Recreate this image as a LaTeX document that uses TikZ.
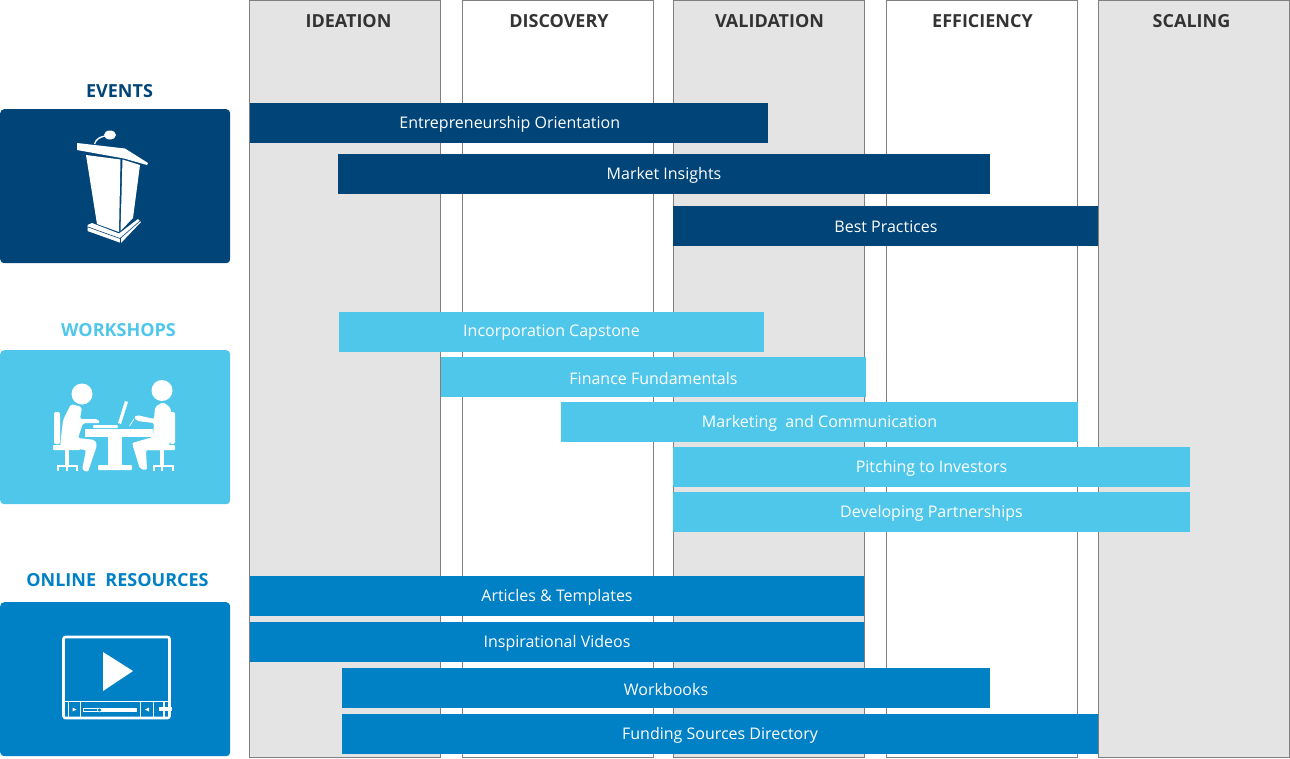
\documentclass[tikz,border=0pt]{standalone}
\usepackage{fontspec}
\usepackage{xcolor}
\setmainfont{Open Sans}
\definecolor{evblue}{HTML}{004478}
\definecolor{wsblue}{HTML}{4FC7EA}
\definecolor{orblue}{HTML}{0080C5}
\definecolor{colgray}{HTML}{E4E4E4}
\tikzset{
  stage/.style={draw=black!50, line width=0.8pt, outer sep=0pt, minimum width=191pt, minimum height=757pt, anchor=north west, inner sep=0pt},
  stagehead/.style={font=\fontsize{18}{20}\selectfont\bfseries, text=black!80, inner sep=0pt},
  bar/.style={minimum height=40pt, inner sep=0pt, text height=12pt, text depth=2pt, text=white, font=\fontsize{16}{18}\selectfont},
  card/.style={rounded corners=4pt, minimum width=230pt, minimum height=154pt, anchor=north west, inner sep=0pt},
  cardhead/.style={font=\fontsize{18}{20}\selectfont\bfseries, inner sep=0pt}
}
\begin{document}
\begin{tikzpicture}[x=1pt,y=-1pt]
\useasboundingbox (0,0) rectangle (1290,758);
% stages
\node[stage, fill=colgray] (s1) at (249.5,0) {};
\node[stage, fill=white] (s2) at (462.5,0) {};
\node[stage, fill=colgray] (s3) at (673.5,0) {};
\node[stage, fill=white] (s4) at (886.5,0) {};
\node[stage, fill=colgray] (s5) at (1098.5,0) {};
\node[stagehead] (h1) at (348.5,21.5) {IDEATION};
\node[stagehead] (h2) at (559,21.5) {DISCOVERY};
\node[stagehead] (h3) at (769.5,21.5) {VALIDATION};
\node[stagehead] (h4) at (982.5,21.5) {EFFICIENCY};
\node[stagehead] (h5) at (1191.5,21.5) {SCALING};
% events
\node[cardhead, text=evblue] (evh) at (119.5,91) {EVENTS};
\node[card, fill=evblue] (evc) at (0,109) {};
\node[bar, fill=evblue, minimum width=518pt] (ev1) at (509,123) {\hspace{1.5pt}Entrepreneurship Orientation};
\node[bar, fill=evblue, minimum width=652pt] (ev2) at (664,174) {Market Insights};
\node[bar, fill=evblue, minimum width=425pt, text height=14pt] (ev3) at (885.5,226) {\hspace{1pt}Best Practices};
% workshops
\node[cardhead, text=wsblue] (wsh) at (118.5,330) {WORKSHOPS};
\node[card, fill=wsblue] (wsc) at (0,350) {};
\node[bar, fill=wsblue, minimum width=425pt, text height=10pt] (ws1) at (551.5,332) {Incorporation Capstone};
\node[bar, fill=wsblue, minimum width=425pt, text height=16pt] (ws2) at (653.5,377) {Finance Fundamentals};
\node[bar, fill=wsblue, minimum width=517pt] (ws3) at (819.5,422) {Marketing\ \ and Communication};
\node[bar, fill=wsblue, minimum width=517pt] (ws4) at (931.5,467) {Pitching to Investors\hspace{2pt}};
\node[bar, fill=wsblue, minimum width=517pt] (ws5) at (931.5,512) {Developing Partnerships\hspace{2pt}};
% online resources
\node[cardhead, text=orblue] (orh) at (117.5,580) {ONLINE\ \ RESOURCES};
\node[card, fill=orblue] (orc) at (0,602) {};
\node[bar, fill=orblue, minimum width=614pt] (or1) at (557,596) {Articles \& Templates};
\node[bar, fill=orblue, minimum width=614pt] (or2) at (557,642) {Inspirational Videos};
\node[bar, fill=orblue, minimum width=648pt, text height=16pt] (or3) at (666,688) {Workbooks};
\node[bar, fill=orblue, minimum width=756pt] (or4) at (720,734) {Funding Sources Directory\hspace{2pt}};
% lectern
\fill[white] (110,135) ellipse (6 and 4.5);
\draw[white, line width=1.3pt] (94.5,144) .. controls (96,139) and (100,137) .. (105,136);
\fill[white] (77,143) -- (125,148.5) -- (148,163) -- (147,165) -- (124,158.5) -- (77,150) -- cycle;
\fill[white] (86,155) -- (120.5,159.5) -- (119,232) -- (97,224) -- cycle;
\fill[white] (122.5,159.5) -- (140,165) -- (133,218) -- (120.5,231) -- cycle;
\fill[white] (87.5,225) -- (92,223) -- (119,233.5) -- (138,219) -- (141,222) -- (121,243) -- (87.5,231) -- cycle;
\draw[evblue, line width=0.6pt] (88,227) -- (120,238.5) -- (140,221);
\draw[evblue, line width=0.6pt] (120.5,238) -- (120.5,243);
% meeting
\fill[white] (82,394) circle (10.5);
\fill[white] (162,390.5) circle (10.5);
\fill[white, rounded corners=2pt] (54,412) rectangle (60,444);
\fill[white, rounded corners=1pt] (53,445) rectangle (80,450);
\fill[white] (65,450) rectangle (69,466);
\fill[white] (57,465) rectangle (78,467);
\fill[white] (57,465) rectangle (59,471);
\fill[white] (66,465) rectangle (68,471);
\fill[white] (76,465) rectangle (78,471);
\fill[white, rounded corners=2pt] (71,404) -- (82,407) -- (80,419) -- (98,419) -- (100,423) -- (83,423) -- (78,438) -- (95,440) -- (97,445) -- (88,472) -- (82,470) -- (86,450) -- (60,447) -- (63,420) -- cycle;
\fill[white] (85,429) rectangle (153,437);
\fill[white] (108,437) rectangle (122,466);
\fill[white, rounded corners=1pt] (98,465) rectangle (132,470);
\fill[white, rounded corners=1pt] (93,425) rectangle (118,428);
\fill[white] (118,423) -- (125,401) -- (128,402) -- (121,424) -- cycle;
\fill[white, rounded corners=2pt] (170,412) rectangle (175,444);
\fill[white, rounded corners=1pt] (148,445) rectangle (175,450);
\fill[white] (160,450) rectangle (164,466);
\fill[white] (153,465) rectangle (174,467);
\fill[white] (153,465) rectangle (155,471);
\fill[white] (161,465) rectangle (163,471);
\fill[white] (172,465) rectangle (174,471);
\fill[white, rounded corners=2pt] (155,407) -- (163,402) -- (171,408) -- (171,437) -- (168,450) -- (146,450) -- (147,470) -- (140,469) -- (132,443) -- (153,437) -- (154,423) -- (137,421) -- (134,417) -- (137,415) -- (154,419) -- cycle;
\draw[white, line width=0.7pt] (134,419) -- (129.5,426);
% video
\draw[white, line width=2.6pt, rounded corners=2pt] (63.5,637) rectangle (169.5,718);
\fill[white] (103,652) -- (133,671) -- (103,691) -- cycle;
\draw[white, line width=0.6pt] (63,701) -- (170,701);
\draw[white, line width=0.8pt] (68,701) -- (68,718);
\draw[white, line width=0.6pt] (80,701) -- (80,718);
\draw[white, line width=0.6pt] (140,701) -- (140,718);
\draw[white, line width=0.9pt] (153,701) -- (153,718);
\fill[white] (72.5,707.5) -- (76.5,709.5) -- (72.5,711.5) -- cycle;
\fill[white] (149,707.5) -- (145,709.5) -- (149,711.5) -- cycle;
\draw[white, line width=0.6pt] (83.5,708) rectangle (99,711.5);
\fill[white] (99,708) rectangle (136.5,711.5);
\filldraw[fill=orblue, draw=white, line width=0.6pt] (99.5,710) circle (2);
\fill[white] (163,701) rectangle (165,718);
\fill[white] (159,707) rectangle (172,711);
\end{tikzpicture}
\end{document}
